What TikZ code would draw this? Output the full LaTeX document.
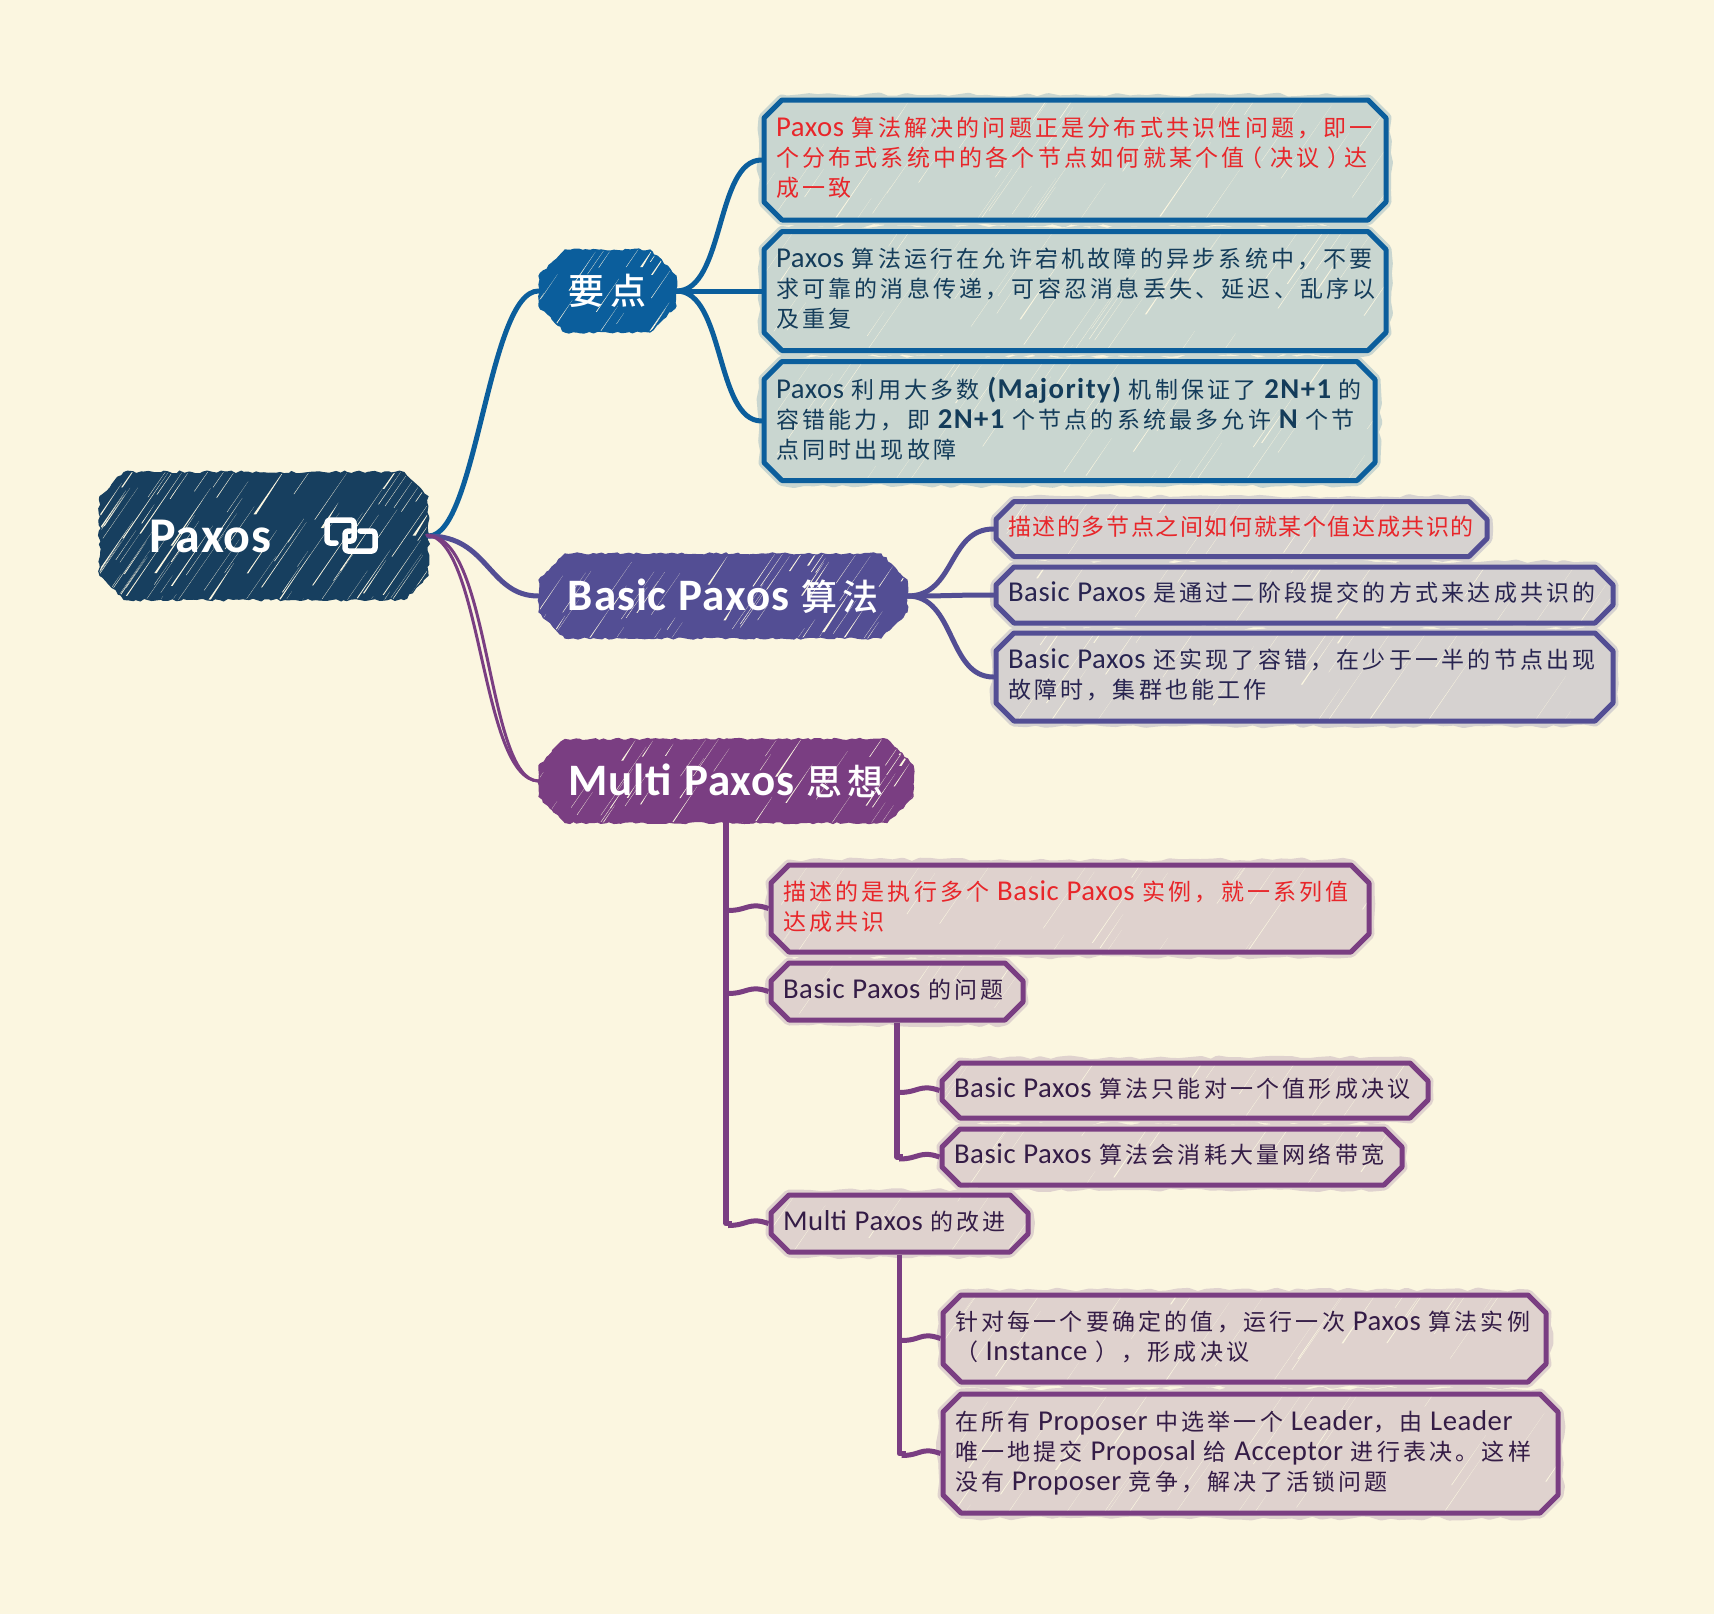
\documentclass[tikz,border=0pt]{standalone}
\usepackage{fontspec}
\usetikzlibrary{shapes.misc,decorations.pathmorphing,calc}
\setmainfont{Noto Sans CJK SC}[BoldFont=* Medium,LetterSpace=14,WordSpace=1.8]
\newfontfamily\latf{Carlito}[LetterSpace=2,Scale=1.25]
\newcommand{\lat}[1]{{\latf #1}}
\newcommand{\latb}[1]{{\latf\bfseries\addfontfeature{LetterSpace=5}#1}}
\definecolor{bgc}{RGB}{251,246,224}
\definecolor{rootc}{RGB}{23,63,95}
\definecolor{bluec}{RGB}{11,94,156}
\definecolor{indc}{RGB}{83,78,148}
\definecolor{purc}{RGB}{122,62,130}
\definecolor{blf}{RGB}{201,214,208}
\definecolor{ilf}{RGB}{214,210,208}
\definecolor{plf}{RGB}{223,210,206}
\definecolor{redt}{RGB}{232,38,42}
\definecolor{bdk}{RGB}{20,60,90}
\definecolor{idk}{RGB}{40,36,80}
\definecolor{pdk}{RGB}{52,28,70}
\newcommand{\streaks}[4]{% density, min length, max length, max width
  \pgfmathtruncatemacro\nn{max(4,#1*\boxw*\boxh)}%
  \foreach \i in {1,...,\nn}{%
    \pgfmathsetmacro\rx{rnd*1.2-0.2}\pgfmathsetmacro\ry{(rnd*1.2-0.3)*\boxh}%
    \pgfmathsetmacro\rl{#2+rnd*(#3-#2)}\pgfmathsetmacro\rw{0.3+rnd*rnd*#4}%
    \fill[bgc] ($(path picture bounding box.south west)!\rx!(path picture bounding box.south east)$)
      ++(0pt,\ry pt) -- ++(0.57*\rl pt,0.82*\rl pt) -- ++(-0.57*\rl pt+\rw pt,-0.82*\rl pt) -- cycle;}%
}
\tikzset{
  box/.code n args={3}{\pgfmathsetmacro\tw{#1-#3}\def\boxw{#1}\def\boxh{#2}\tikzset{minimum width=#1pt,minimum height=#2pt,text width=\tw pt}},
  base/.style={chamfered rectangle,chamfered rectangle sep=#1,inner sep=0pt},
  leaf/.style n args={2}{base=9pt,draw=#1,line width=5pt,fill=#2,align=left,line join=round,
    font=\fontsize{23}{30}\selectfont,
    execute at end node={\rule[-6pt]{0pt}{6pt}},
    preaction={draw=#2,line width=11pt,decorate,decoration={random steps,segment length=10pt,amplitude=2pt}},
    path picture={\streaks{0.0006}{30}{110}{1.4}}},
  leafb/.style={leaf={bluec}{blf},text=bdk},
  leafi/.style={leaf={indc}{ilf},text=idk},
  leafp/.style={leaf={purc}{plf},text=pdk},
  major/.style={base=13pt,fill=#1,draw=#1,line width=1.2pt,decorate,
    decoration={random steps,segment length=4pt,amplitude=1.1pt},
    align=center,text=white,font=\fontsize{36}{40}\bfseries\selectfont,
    path picture={\streaks{0.0018}{12}{60}{2.4}}},
  rootn/.style={base=12pt,fill=rootc,draw=rootc,line width=1.2pt,decorate,
    decoration={random steps,segment length=4pt,amplitude=1.4pt},
    align=center,text=white,font=\fontsize{40}{56}\bfseries\selectfont,
    path picture={\streaks{0.0026}{15}{90}{3}}},
  link/.style={line width=5pt,line cap=round},
  rough/.style={line width=3pt,line cap=round},
  stem/.style={line width=5.5pt,draw=purc,line join=round},
  twig/.style={draw=purc,line width=5pt},
  icon/.style={white,line width=5.5pt,line cap=round,line join=round,rounded corners=3pt},
}
\begin{document}
\begin{tikzpicture}[x=1pt,y=-1pt]
\pgfmathsetseed{4242}
\fill[bgc] (0,0) rectangle (1714,1614);
\useasboundingbox (0,0) rectangle (1714,1614);

\node[rootn,box={328}{127}{40}] (root) at (264,536) {\lat{Paxos}\hspace{107pt}\mbox{}};
\node[major=bluec,box={137}{82}{30}] (k1) at (607.5,291) {要点};
\node[major=indc,box={368}{84}{30}] (k2) at (723,596) {\lat{Basic Paxos} 算法};
\node[major=purc,box={374}{83}{30}] (k3) at (726,781) {\lat{Multi Paxos} 思想};

\node[leafb,box={622}{120}{24}] (t1) at (1075,160) {\textcolor{redt}{\lat{Paxos} 算法解决的问题正是分布式共识性问题，即一\\个分布式系统中的各个节点如何就某个值\hspace{-5pt}（ 决议 ）\hspace{-6pt}达\\成一致}};
\node[leafb,box={622}{119}{24}] (t2) at (1075,291) {\lat{Paxos} 算法运行在允许宕机故障的异步系统中，不要\\求可靠的消息传递，可容忍消息丢失、延迟、乱序以\\及重复};
\node[leafb,box={611}{119}{24}] (t3) at (1069.5,421) {\lat{Paxos} 利用大多数 \latb{(Majority)} 机制保证了 \latb{2N+1} 的\\容错能力，即 \latb{2N+1} 个节点的系统最多允许 \latb{N} 个节\\点同时出现故障};

\node[leafi,box={491}{55}{24}] (b1) at (1241.5,529) {\addfontfeature{LetterSpace=7}\textcolor{redt}{描述的多节点之间如何就某个值达成共识的}};
\node[leafi,box={617}{56}{24}] (b2) at (1304.5,595) {\lat{Basic Paxos} 是通过二阶段提交的方式来达成共识的};
\node[leafi,box={617}{88}{24}] (b3) at (1304.5,677) {\lat{Basic Paxos} 还实现了容错，在少于一半的节点出现\\故障时，集群也能工作};

\node[leafp,box={598}{87}{24}] (m1) at (1070,908.5) {\textcolor{redt}{描述的是执行多个 \lat{Basic Paxos} 实例，就一系列值\\达成共识}};
\node[leafp,box={252}{57}{24}] (m2) at (897,991.5) {\lat{Basic Paxos} 的问题};
\node[leafp,box={486}{55}{24}] (m21) at (1185,1090.5) {\lat{Basic Paxos} 算法只能对一个值形成决议};
\node[leafp,box={460}{56}{24}] (m22) at (1172,1157) {\lat{Basic Paxos} 算法会消耗大量网络带宽};
\node[leafp,box={257}{57}{24}] (m3) at (899.5,1223.5) {\lat{Multi Paxos} 的改进};
\node[leafp,box={603}{87}{24}] (m31) at (1244.5,1338.5) {针对每一个要确定的值，运行一次 \lat{Paxos} 算法实例\\（ \lat{Instance} ），形成决议};
\node[leafp,box={615}{119}{24}] (m32) at (1250.5,1453.5) {在所有 \lat{Proposer} 中选举一个 \lat{Leader}，由 \lat{Leader}\\唯一地提交 \lat{Proposal} 给 \lat{Acceptor} 进行表决。这样\\没有 \lat{Proposer} 竞争，解决了活锁问题};

% icon after the word Paxos
\draw[icon] (336,543) -- (327,543) -- (327,520) -- (354,520) -- (354,541) -- (345,541);
\draw[icon] (360,531) -- (375,531) -- (375,551) -- (345,551) -- (345,531) -- (350,531);

% root connectors
\draw[bluec,link] (root.east) .. controls +(48,0) and +(-50,0) .. (k1.west);
\draw[indc,link] (root.east) .. controls +(60,0) and +(-50,0) .. (k2.west);
\draw[purc,rough] (root.east) .. controls +(62,0) and +(-52,0) .. (k3.west);
\draw[purc,rough] ([xshift=-2pt,yshift=1pt]root.east) .. controls +(56,4) and +(-58,-2) .. (k3.west);

% branch connectors
\foreach \k in {t1,t2,t3} \draw[bluec,link] (k1.east) .. controls +(48,0) and +(-46,0) .. (\k.west);
\foreach \k in {b1,b2,b3} \draw[indc,link] (k2.east) .. controls +(48,0) and +(-46,0) .. (\k.west);

% tree connectors
\draw[stem] (k3.south) -- (k3.south |- m3.west) -- +(6,0);
\foreach \k in {m1,m2,m3}
  \draw[twig] (k3.south |- \k.west) ++(2,2) .. controls +(20,0) and +(-20,-7) .. (\k.west);
\draw[stem] (m2.south) -- (m2.south |- m22.west) -- +(6,0);
\foreach \k in {m21,m22}
  \draw[twig] (m2.south |- \k.west) ++(2,2) .. controls +(20,0) and +(-20,-7) .. (\k.west);
\draw[stem] (m3.south) -- (m3.south |- m32.west) -- +(6,0);
\foreach \k in {m31,m32}
  \draw[twig] (m3.south |- \k.west) ++(2,2) .. controls +(20,0) and +(-20,-7) .. (\k.west);
\end{tikzpicture}
\end{document}
